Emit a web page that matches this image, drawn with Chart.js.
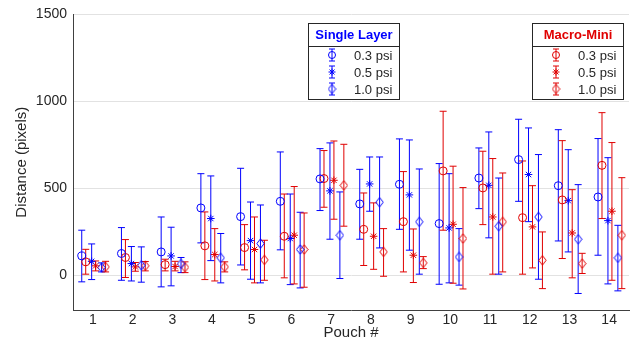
<!DOCTYPE html>
<html><head><meta charset="utf-8">
<script src="https://cdn.jsdelivr.net/npm/chart.js"></script>
<style>html,body{margin:0;padding:0;background:#fff;overflow:hidden}#wrap{width:634px;height:349px;position:relative}</style>
</head><body><div id="wrap"><canvas id="c" width="634" height="349"></canvas></div>
<script>
const pouches = [1,2,3,4,5,6,7,8,9,10,11,12,13,14];
const yTicks = [0,500,1000,1500];

const sl03Mean = [111,125,134,387,337,425,554,410,523,297,559,665,515,450];
const sl03Low  = [-38,-29,-67,186,59,146,372,207,264,-52,383,425,197,115];
const sl03High = [259,274,335,584,615,709,728,609,784,642,732,897,837,786];

const sl05Mean = [80,67,111,326,199,211,485,525,462,272,517,579,429,314];
const sl05Low  = [-25,-33,-61,84,-23,-54,207,368,144,-44,215,308,134,-50];
const sl05High = [180,165,276,571,421,467,761,680,778,584,824,847,722,676];

const sl10Mean = [44,57,65,100,182,148,230,420,307,105,282,335,207,100];
const sl10Low  = [19,-40,15,-44,-44,-73,-19,157,6,-57,6,-23,-105,-90];
const sl10High = [71,163,102,240,404,362,479,680,611,268,559,694,521,287];

const mm03Mean = [77,102,61,169,159,224,556,264,308,600,502,331,433,632];
const mm03Low  = [6,-13,25,-25,31,-15,391,56,19,259,291,6,96,326];
const mm03High = [149,205,92,364,291,467,717,473,596,943,713,657,774,935];

const mm05Mean = [54,48,50,119,148,230,546,224,115,293,335,278,243,368];
const mm05Low  = [25,23,25,-33,-44,-50,322,34,-42,-46,6,42,-15,-29];
const mm05High = [82,73,80,268,335,510,772,416,266,627,671,515,492,763];

const mm10Mean = [48,54,46,48,88,148,517,134,71,211,307,86,67,230];
const mm10Low  = [19,25,15,19,-29,-69,282,-6,38,-79,19,-77,10,-77];
const mm10High = [80,79,77,77,201,358,753,268,107,504,588,249,126,561];

const BLUE = '#0000ff', RED = '#e00000';
const FONT = "'Liberation Sans', Arial, Helvetica, sans-serif";
const TXT = '#262626';

function diamondImage(color) {
  const c = document.createElement('canvas');
  c.width = 9; c.height = 11;
  const g = c.getContext('2d');
  g.strokeStyle = color; g.lineWidth = 1;
  g.beginPath();
  g.moveTo(4.5, 0.8); g.lineTo(8.2, 5.5); g.lineTo(4.5, 10.2); g.lineTo(0.8, 5.5); g.closePath();
  g.stroke();
  return c;
}

const series = [
  {group:'Single Layer', label:'0.3 psi', mean:sl03Mean, low:sl03Low, high:sl03High, color:BLUE, style:'circle', off:-0.28},
  {group:'Macro-Mini',   label:'0.3 psi', mean:mm03Mean, low:mm03Low, high:mm03High, color:RED,  style:'circle', off:-0.18},
  {group:'Single Layer', label:'0.5 psi', mean:sl05Mean, low:sl05Low, high:sl05High, color:BLUE, style:'star',   off:-0.03},
  {group:'Macro-Mini',   label:'0.5 psi', mean:mm05Mean, low:mm05Low, high:mm05High, color:RED,  style:'star',   off:0.07},
  {group:'Single Layer', label:'1.0 psi', mean:sl10Mean, low:sl10Low, high:sl10High, color:BLUE, style:'diamond',off:0.22},
  {group:'Macro-Mini',   label:'1.0 psi', mean:mm10Mean, low:mm10Low, high:mm10High, color:RED,  style:'diamond',off:0.32}
];
series.forEach(s => { s.ps = s.style === 'diamond' ? diamondImage(s.color) : s.style; });

const datasets = series.map(s => ({
  label: s.group + ' ' + s.label,
  data: pouches.map((p, i) => ({x: p + s.off, y: s.mean[i]})),
  low: s.low, high: s.high,
  borderColor: s.color, backgroundColor: 'rgba(0,0,0,0)',
  pointStyle: s.ps, pointRadius: s.style === 'circle' ? 4 : 3.8, pointBorderWidth: 1, showLine: false
}));

const CAP = 3.5;
const errorBars = {
  id: 'errorBars',
  beforeDatasetsDraw(chart) {
    const ctx = chart.ctx, ys = chart.scales.y;
    chart.data.datasets.forEach((ds, di) => {
      const meta = chart.getDatasetMeta(di);
      ctx.save();
      ctx.strokeStyle = ds.borderColor; ctx.lineWidth = 1;
      meta.data.forEach((pt, i) => {
        const x = pt.x;
        const y1 = ys.getPixelForValue(ds.low[i]), y2 = ys.getPixelForValue(ds.high[i]);
        ctx.beginPath();
        ctx.moveTo(x, y1); ctx.lineTo(x, y2);
        ctx.moveTo(x - CAP, y1); ctx.lineTo(x + CAP, y1);
        ctx.moveTo(x - CAP, y2); ctx.lineTo(x + CAP, y2);
        ctx.stroke();
      });
      ctx.restore();
    });
  }
};

function drawMarker(ctx, s, x, y, r) {
  if (s.style === 'diamond') { ctx.drawImage(s.ps, x - s.ps.width / 2, y - s.ps.height / 2); return; }
  ctx.beginPath();
  if (s.style === 'circle') {
    ctx.arc(x, y, r, 0, Math.PI * 2);
  } else {
    for (let k = 0; k < 4; k++) {
      const a = k * Math.PI / 4;
      ctx.moveTo(x - Math.cos(a) * r, y - Math.sin(a) * r);
      ctx.lineTo(x + Math.cos(a) * r, y + Math.sin(a) * r);
    }
  }
  ctx.stroke();
}

const legendBoxes = [
  {title:'Single Layer', color:BLUE, x:308, y:23, w:91, h:76},
  {title:'Macro-Mini', color:RED, x:532, y:23, w:91, h:76}
];

const boxLegend = {
  id: 'boxLegend',
  afterDraw(chart) {
    const ctx = chart.ctx;
    legendBoxes.forEach(b => {
      ctx.save();
      ctx.fillStyle = '#fff'; ctx.fillRect(b.x, b.y, b.w, b.h);
      ctx.strokeStyle = TXT; ctx.lineWidth = 1;
      ctx.strokeRect(b.x + 0.5, b.y + 0.5, b.w, b.h);
      ctx.beginPath(); ctx.moveTo(b.x, b.y + 23.5); ctx.lineTo(b.x + b.w, b.y + 23.5); ctx.stroke();
      ctx.fillStyle = b.color; ctx.font = 'bold 13px ' + FONT;
      ctx.textAlign = 'center'; ctx.textBaseline = 'middle';
      ctx.fillText(b.title, b.x + b.w / 2 + 0.5, b.y + 12);
      const items = series.filter(s => s.group === b.title);
      items.forEach((s, k) => {
        const cy = b.y + 32 + k * 17, cx = b.x + 24;
        ctx.strokeStyle = s.color; ctx.lineWidth = 1;
        ctx.beginPath();
        ctx.moveTo(cx, cy - 6); ctx.lineTo(cx, cy + 6);
        ctx.moveTo(cx - 3, cy - 6); ctx.lineTo(cx + 3, cy - 6);
        ctx.moveTo(cx - 3, cy + 6); ctx.lineTo(cx + 3, cy + 6);
        ctx.stroke();
        drawMarker(ctx, s, cx, cy, 3.5);
        ctx.fillStyle = TXT; ctx.font = '13px ' + FONT; ctx.textAlign = 'left';
        ctx.fillText(s.label, b.x + 46, cy + 1);
      });
      ctx.restore();
    });
  }
};

new Chart(document.getElementById('c'), {
  type: 'scatter',
  data: {datasets},
  plugins: [errorBars, boxLegend],
  options: {
    responsive: false, animation: false, devicePixelRatio: 1,
    layout: {padding: {top: 14, left: 0, right: 0, bottom: 0}},
    plugins: {legend: {display: false}, tooltip: {enabled: false}},
    scales: {
      x: {
        type: 'linear', min: 0.5, max: 14.5,
        afterBuildTicks(s) { s.ticks = pouches.map(v => ({value: v})); },
        afterFit(s) { s.height = 39; },
        grid: {display: false, drawTicks: false},
        border: {display: true, color: '#404040', width: 1},
        ticks: {font: {family: FONT, size: 14}, color: TXT, padding: 2, maxRotation: 0, autoSkip: false,
                callback: v => String(v)},
        title: {display: true, text: 'Pouch #', font: {family: FONT, size: 15}, color: TXT, padding: {top: 0, bottom: 7}}
      },
      y: {
        min: -200, max: 1500,
        afterBuildTicks(s) { s.ticks = yTicks.map(v => ({value: v})); },
        afterFit(s) { s.width = 73; },
        grid: {color: '#e2e2e2', drawTicks: false},
        border: {display: true, color: '#404040', width: 1},
        ticks: {font: {family: FONT, size: 14}, color: TXT, padding: 6, callback: v => String(v)},
        title: {display: true, text: 'Distance (pixels)', font: {family: FONT, size: 15}, color: TXT, padding: {top: 13, bottom: 0}}
      }
    }
  }
});
</script></body></html>
